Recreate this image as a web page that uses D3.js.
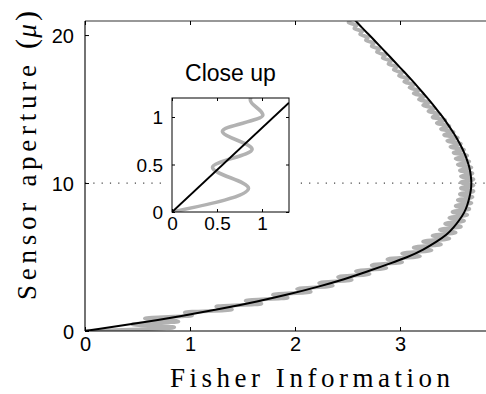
<!DOCTYPE html>
<html><head><meta charset="utf-8">
<script src="https://cdn.jsdelivr.net/npm/d3@7"></script>
<style>html,body{margin:0;padding:0;background:#fff;}svg{display:block;}</style>
</head><body>
<svg id="chart" width="486" height="394"></svg>
<script>
// ---- data ----
const xTicks = [0, 1, 2, 3];
const yTicks = [0, 10, 20];
const insetXTicks = [0, 0.5, 1];
const insetYTicks = [0, 0.5, 1];
const refAperture = 10;

// smooth (theory) curve: aperture vs Fisher information
const blackAperture = [0,0.5,1,1.5,2,2.5,3,3.5,4,4.5,5,5.5,6,6.5,7,7.5,8,8.5,9,9.5,10,10.5,11,11.5,12,12.5,13,13.5,14,14.5,15,15.5,16,16.5,17,17.5,18,18.5,19,19.5,20,20.5,21,21.5];
const blackFI = [0,0.476,0.905,1.291,1.637,1.947,2.222,2.466,2.681,2.88,3.07,3.22,3.34,3.44,3.51,3.565,3.61,3.64,3.66,3.674,3.679,3.674,3.662,3.641,3.614,3.581,3.543,3.499,3.452,3.402,3.347,3.290,3.230,3.169,3.106,3.041,2.975,2.909,2.842,2.775,2.707,2.638,2.572,2.505];

// oscillating (simulated) curve: turning points
const grayAperture = [0,0.25,0.45,0.65,0.85,1.05,1.25,1.45,1.65,1.85,2.05,2.25,2.45,2.65,2.85,3.05,3.25,3.45,3.65,3.85,4.05,4.25,4.45,4.65,4.85,5.05,5.25,5.45,5.65,5.85,6.05,6.25,6.45,6.65,6.85,7.05,7.25,7.45,7.65,7.85,8.05,8.25,8.45,8.65,8.85,9.05,9.25,9.45,9.65,9.85,10.05,10.25,10.45,10.65,10.85,11.05,11.25,11.45,11.65,11.85,12.05,12.25,12.45,12.65,12.85,13.05,13.25,13.45,13.65,13.85,14.05,14.25,14.45,14.65,14.85,15.05,15.25,15.45,15.65,15.85,16.05,16.25,16.45,16.65,16.85,17.05,17.25,17.45,17.65,17.85,18.05,18.25,18.45,18.65,18.85,19.05,19.25,19.45,19.65,19.85,20.05,20.25,20.45,20.65,20.85,21.05];
const grayFI = [0,0.85,0.45,0.89,0.57,1.02,0.95,1.40,1.25,1.68,1.53,1.93,1.79,2.15,2.02,2.36,2.23,2.54,2.41,2.71,2.58,2.87,2.73,3.02,2.88,3.19,3.02,3.30,3.13,3.39,3.22,3.47,3.31,3.53,3.38,3.58,3.43,3.61,3.47,3.64,3.50,3.66,3.53,3.68,3.55,3.69,3.57,3.70,3.58,3.70,3.58,3.70,3.58,3.69,3.57,3.68,3.55,3.66,3.53,3.64,3.51,3.61,3.48,3.58,3.45,3.55,3.42,3.51,3.39,3.47,3.35,3.43,3.31,3.38,3.27,3.33,3.22,3.28,3.18,3.23,3.13,3.18,3.09,3.13,3.04,3.08,2.99,3.02,2.94,2.97,2.89,2.915,2.835,2.86,2.78,2.805,2.73,2.75,2.675,2.695,2.62,2.64,2.565,2.585,2.51,2.53];

// inset close-up
const insetBlackFI = [0, 1.3];
const insetBlackAperture = [0, 1.15];
const insetGrayFI = [0,0.85,0.45,0.89,0.56,1.01,0.87,0.95];
const insetGrayAperture = [0,0.25,0.47,0.66,0.85,1.02,1.18,1.3];

// ---- drawing ----
const svg = d3.select("#chart");
const M = {left:85, right:490, top:21, bottom:331};
const x = d3.scaleLinear().domain([0, 3.857]).range([M.left, M.right]);
const y = d3.scaleLinear().domain([0, 20.95]).range([M.bottom, M.top]);

const defs = svg.append("defs");
defs.append("clipPath").attr("id","mainClip").append("rect")
  .attr("x", M.left).attr("y", M.top).attr("width", M.right-M.left).attr("height", M.bottom-M.top);

const tickFont = "'Liberation Sans', Arial, Helvetica, sans-serif";
const serifFont = "'Liberation Serif', 'DejaVu Serif', serif";

// reference dotted line
svg.append("line")
  .attr("x1", x(0)).attr("x2", 486)
  .attr("y1", y(refAperture)).attr("y2", y(refAperture))
  .attr("stroke", "#444").attr("stroke-width", 1.2)
  .attr("stroke-dasharray", "1.2,7.1");

const gMain = svg.append("g").attr("clip-path","url(#mainClip)");

const grayPts = grayAperture.map((a,i)=>[grayFI[i], a]).reverse();
gMain.append("path")
  .attr("d", d3.line().x(d=>x(d[0])).y(d=>y(d[1])).curve(d3.curveMonotoneY)(grayPts))
  .attr("fill","none").attr("stroke","#b2b2b2").attr("stroke-width",3.8)
  .attr("stroke-linejoin","round");

const blackPts = blackAperture.map((a,i)=>[blackFI[i], a]);
gMain.append("path")
  .attr("d", d3.line().x(d=>x(d[0])).y(d=>y(d[1])).curve(d3.curveNatural)(blackPts))
  .attr("fill","none").attr("stroke","#000").attr("stroke-width",2);

// axes box (left, bottom, top)
const axG = svg.append("g").attr("stroke","#000").attr("stroke-width",1.1);
axG.append("line").attr("x1",M.left).attr("x2",M.left).attr("y1",M.top).attr("y2",M.bottom);
axG.append("line").attr("x1",M.left).attr("x2",M.right).attr("y1",M.bottom).attr("y2",M.bottom);
axG.append("line").attr("x1",M.left).attr("x2",M.right).attr("y1",M.top).attr("y2",M.top).attr("stroke","#333");

// ticks via d3 axes (inward)
const xAxisB = d3.axisBottom(x).tickValues(xTicks).tickSize(-4).tickPadding(16).tickFormat(d3.format("d"));
const gx = svg.append("g").attr("transform",`translate(0,${M.bottom})`).call(xAxisB);
gx.select(".domain").remove();
gx.selectAll("text").attr("font-family",tickFont).attr("font-size",20).attr("fill","#000").attr("dy","0.2em");
const gxt = svg.append("g").attr("transform",`translate(0,${M.top})`)
  .call(d3.axisTop(x).tickValues(xTicks).tickSize(-4).tickFormat(""));
gxt.select(".domain").remove();

const yAxisL = d3.axisLeft(y).tickValues(yTicks).tickSize(-4).tickPadding(11).tickFormat(d3.format("d"));
const gy = svg.append("g").attr("transform",`translate(${M.left},0)`).call(yAxisL);
gy.select(".domain").remove();
gy.selectAll("text").attr("font-family",tickFont).attr("font-size",20).attr("fill","#000").attr("dy","0.36em");

// axis titles
svg.append("text").attr("x", 170).attr("y", 387)
  .attr("font-family", serifFont).attr("font-size", 27).attr("fill","#000")
  .attr("textLength", 280).attr("lengthAdjust","spacing")
  .text("Fisher Information");

svg.append("text").attr("transform","translate(36,300) rotate(-90)")
  .attr("font-family", serifFont).attr("font-size", 27).attr("fill","#000")
  .attr("textLength", 235).attr("lengthAdjust","spacing")
  .text("Sensor aperture");
svg.append("text").attr("transform","translate(36,44) rotate(-90)")
  .attr("font-family", serifFont).attr("font-size", 30).attr("text-anchor","middle").attr("fill","#000").text("(");
svg.append("text").attr("transform","translate(36,31) rotate(-90)")
  .attr("font-family", serifFont).attr("font-size", 27).attr("font-style","italic").attr("text-anchor","middle").attr("fill","#000").text("μ");
svg.append("text").attr("transform","translate(36,16) rotate(-90)")
  .attr("font-family", serifFont).attr("font-size", 30).attr("text-anchor","middle").attr("fill","#000").text(")");

// ---- inset ----
const I = {left:172, right:289, top:98, bottom:212};
const xi = d3.scaleLinear().domain([0, 1.3]).range([I.left, I.right]);
const yi = d3.scaleLinear().domain([0, 1.2]).range([I.bottom, I.top]);
defs.append("clipPath").attr("id","insetClip").append("rect")
  .attr("x", I.left).attr("y", I.top).attr("width", I.right-I.left).attr("height", I.bottom-I.top);

svg.append("rect").attr("x", 164).attr("y", I.top-2).attr("width", 296-164).attr("height", I.bottom-I.top+4).attr("fill","#fff");

const gIn = svg.append("g").attr("clip-path","url(#insetClip)");
const igPts = insetGrayAperture.map((a,i)=>[insetGrayFI[i], a]).reverse();
gIn.append("path")
  .attr("d", d3.line().x(d=>xi(d[0])).y(d=>yi(d[1])).curve(d3.curveMonotoneY)(igPts))
  .attr("fill","none").attr("stroke","#b2b2b2").attr("stroke-width",3.6);
const ibPts = insetBlackAperture.map((a,i)=>[insetBlackFI[i], a]);
gIn.append("path")
  .attr("d", d3.line().x(d=>xi(d[0])).y(d=>yi(d[1]))(ibPts))
  .attr("fill","none").attr("stroke","#000").attr("stroke-width",2);

svg.append("rect").attr("x", I.left).attr("y", I.top).attr("width", I.right-I.left).attr("height", I.bottom-I.top)
  .attr("fill","none").attr("stroke","#000").attr("stroke-width",1);

const fmtI = d => String(d);
const gib = svg.append("g").attr("transform",`translate(0,${I.bottom})`)
  .call(d3.axisBottom(xi).tickValues(insetXTicks).tickSize(-3).tickPadding(14).tickFormat(fmtI));
gib.select(".domain").remove();
gib.selectAll("text").attr("font-family",tickFont).attr("font-size",19).attr("fill","#000").attr("dy","0.2em");
const git = svg.append("g").attr("transform",`translate(0,${I.top})`)
  .call(d3.axisTop(xi).tickValues(insetXTicks).tickSize(-3).tickFormat(""));
git.select(".domain").remove();
const gil = svg.append("g").attr("transform",`translate(${I.left},0)`)
  .call(d3.axisLeft(yi).tickValues(insetYTicks).tickSize(-3).tickPadding(9).tickFormat(fmtI));
gil.select(".domain").remove();
gil.selectAll("text").attr("font-family",tickFont).attr("font-size",19).attr("fill","#000").attr("dy","0.36em");
const gir = svg.append("g").attr("transform",`translate(${I.right},0)`)
  .call(d3.axisRight(yi).tickValues(insetYTicks).tickSize(-3).tickFormat(""));
gir.select(".domain").remove();

svg.append("text").attr("x", (I.left+I.right)/2).attr("y", 81)
  .attr("text-anchor","middle").attr("font-family",tickFont).attr("font-size",23).attr("fill","#000")
  .text("Close up");
</script>
</body></html>
